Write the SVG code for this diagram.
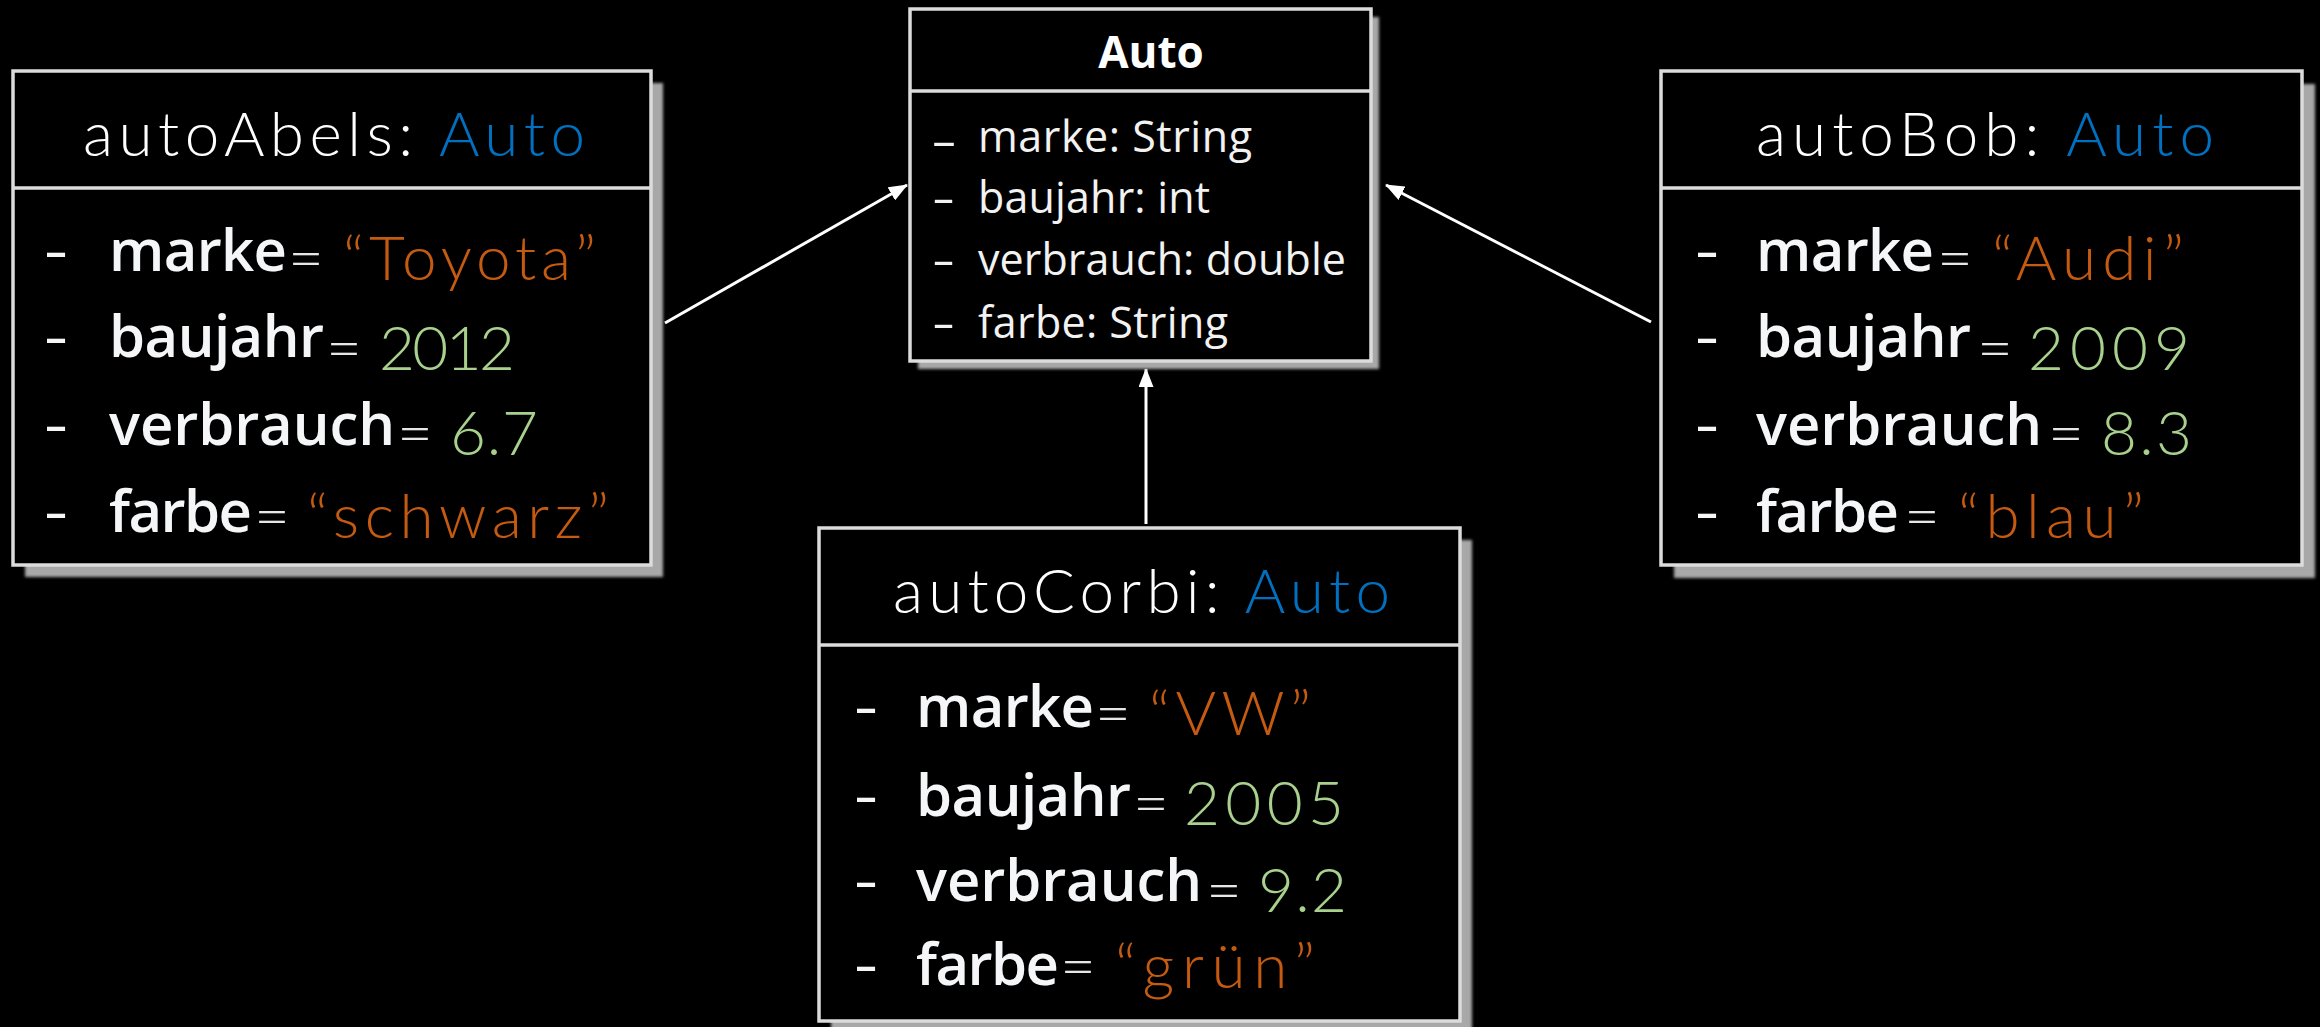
<svg xmlns="http://www.w3.org/2000/svg" width="2320" height="1027" viewBox="0 0 2320 1027">
<defs>
<filter id="soft" x="-5%" y="-5%" width="110%" height="110%"><feGaussianBlur stdDeviation="1.6"/></filter>
<marker id="arr" markerUnits="userSpaceOnUse" markerWidth="19" markerHeight="15" viewBox="0 0 19 15" refX="18" refY="7.5" orient="auto"><path d="M0,0 L19,7.5 L0,15 z" fill="#ffffff"/></marker>
<style>
.bg{fill:#000}
.shadow{fill:#a8a8a8;filter:url(#soft)}
.box{fill:#000;stroke:#dcdcdc;stroke-width:3.5}
.div{stroke:#dcdcdc;stroke-width:3.5}
.title{font-family:Lato,"Open Sans",sans-serif;font-weight:300;font-size:62px;fill:#ffffff}
.blue{fill:#0070c0}
.name{font-family:"Open Sans","Noto Sans",sans-serif;font-weight:600;font-size:58px;fill:#f4f6f8}
.dash{font-family:"Open Sans","Noto Sans",sans-serif;font-weight:400;font-size:58px;fill:#f4f6f8}
.eq{font-family:Lato,"Open Sans",sans-serif;font-weight:300;font-size:62px;fill:#e6e6e6}
.str{font-family:Lato,"Open Sans",sans-serif;font-weight:300;font-size:62px;fill:#c55a11}
.num{font-family:Lato,"Open Sans",sans-serif;font-weight:300;font-size:62px;fill:#a9d18e}
.attr{font-family:"Open Sans","Noto Sans",sans-serif;font-weight:400;font-size:43px;fill:#f2f2f2}
.cls{font-family:"Open Sans","Noto Sans",sans-serif;font-weight:700;font-size:44px;fill:#ffffff}
.conn{stroke:#ffffff;stroke-width:3;fill:none}
</style>
</defs>
<rect class="bg" x="0" y="0" width="2320" height="1027"/>

<g id="connectors">
<line class="conn" x1="665" y1="323" x2="907" y2="185" marker-end="url(#arr)"/>
<line class="conn" x1="1651" y1="322" x2="1386" y2="185" marker-end="url(#arr)"/>
<line class="conn" x1="1146" y1="524" x2="1146" y2="369" marker-end="url(#arr)"/>
</g>

<g id="auto">
<rect class="shadow" x="918" y="17" width="461" height="352"/>
<rect class="box" x="910" y="9" width="461" height="352"/>
<line class="div" x1="910" y1="91" x2="1371" y2="91"/>
<text class="cls" x="1151" y="68" text-anchor="middle">Auto</text>
<text class="attr" x="931" y="156" textLength="26" lengthAdjust="spacingAndGlyphs">-</text>
<text class="attr" x="932" y="213" textLength="23" lengthAdjust="spacingAndGlyphs">-</text>
<text class="attr" x="932" y="275" textLength="23" lengthAdjust="spacingAndGlyphs">-</text>
<text class="attr" x="932" y="338" textLength="23" lengthAdjust="spacingAndGlyphs">-</text>
<text class="attr" x="978" y="152" textLength="274" lengthAdjust="spacing">marke: String</text>
<text class="attr" x="978" y="213" textLength="232" lengthAdjust="spacing">baujahr: int</text>
<text class="attr" x="978" y="275" textLength="368" lengthAdjust="spacing">verbrauch: double</text>
<text class="attr" x="978" y="338" textLength="250" lengthAdjust="spacing">farbe: String</text>
</g>

<g id="autoAbels">
<rect class="shadow" x="25" y="83" width="638" height="494"/>
<rect class="box" x="13" y="71" width="638" height="494"/>
<line class="div" x1="13" y1="188" x2="651" y2="188"/>
<text class="title" x="83" y="156" textLength="502" lengthAdjust="spacing">autoAbels: <tspan class="blue">Auto</tspan></text>
<text class="dash" x="44" y="271" textLength="24" lengthAdjust="spacingAndGlyphs">-</text>
<text class="dash" x="44" y="357" textLength="24" lengthAdjust="spacingAndGlyphs">-</text>
<text class="dash" x="44" y="445" textLength="24" lengthAdjust="spacingAndGlyphs">-</text>
<text class="dash" x="44" y="532" textLength="24" lengthAdjust="spacingAndGlyphs">-</text>
<text class="name" x="109" y="271" textLength="178" lengthAdjust="spacing">marke</text>
<text class="eq" x="288" y="280">=</text>
<text class="str" x="343" y="280" textLength="253" lengthAdjust="spacing">“Toyota”</text>
<text class="name" x="109" y="357" textLength="215" lengthAdjust="spacing">baujahr</text>
<text class="eq" x="326" y="370">=</text>
<text class="num" x="379" y="370" textLength="136" lengthAdjust="spacing">2012</text>
<text class="name" x="109" y="445" textLength="286" lengthAdjust="spacing">verbrauch</text>
<text class="eq" x="397" y="455">=</text>
<text class="num" x="450" y="455" textLength="88" lengthAdjust="spacing">6.7</text>
<text class="name" x="109" y="532" textLength="143" lengthAdjust="spacing">farbe</text>
<text class="eq" x="254" y="538">=</text>
<text class="str" x="307" y="538" textLength="302" lengthAdjust="spacing">“schwarz”</text>
</g>

<g id="autoBob">
<rect class="shadow" x="1674" y="84" width="641" height="494"/>
<rect class="box" x="1661" y="71" width="641" height="494"/>
<line class="div" x1="1661" y1="188" x2="2302" y2="188"/>
<text class="title" x="1756" y="156" textLength="458" lengthAdjust="spacing">autoBob: <tspan class="blue">Auto</tspan></text>
<text class="dash" x="1695" y="271" textLength="24" lengthAdjust="spacingAndGlyphs">-</text>
<text class="dash" x="1695" y="357" textLength="24" lengthAdjust="spacingAndGlyphs">-</text>
<text class="dash" x="1695" y="445" textLength="24" lengthAdjust="spacingAndGlyphs">-</text>
<text class="dash" x="1695" y="532" textLength="24" lengthAdjust="spacingAndGlyphs">-</text>
<text class="name" x="1756" y="271" textLength="178" lengthAdjust="spacing">marke</text>
<text class="eq" x="1937" y="280">=</text>
<text class="str" x="1992" y="280" textLength="192" lengthAdjust="spacing">“Audi”</text>
<text class="name" x="1756" y="357" textLength="215" lengthAdjust="spacing">baujahr</text>
<text class="eq" x="1977" y="370">=</text>
<text class="num" x="2028" y="370" textLength="162" lengthAdjust="spacing">2009</text>
<text class="name" x="1756" y="445" textLength="286" lengthAdjust="spacing">verbrauch</text>
<text class="eq" x="2048" y="455">=</text>
<text class="num" x="2101" y="455" textLength="91" lengthAdjust="spacing">8.3</text>
<text class="name" x="1756" y="532" textLength="143" lengthAdjust="spacing">farbe</text>
<text class="eq" x="1904" y="538">=</text>
<text class="str" x="1958" y="538" textLength="186" lengthAdjust="spacing">“blau”</text>
</g>

<g id="autoCorbi">
<rect class="shadow" x="831" y="540" width="641" height="493"/>
<rect class="box" x="819" y="528" width="641" height="493"/>
<line class="div" x1="819" y1="645" x2="1460" y2="645"/>
<text class="title" x="893" y="613" textLength="497" lengthAdjust="spacing">autoCorbi: <tspan class="blue">Auto</tspan></text>
<text class="dash" x="854" y="727" textLength="24" lengthAdjust="spacingAndGlyphs">-</text>
<text class="dash" x="854" y="816" textLength="24" lengthAdjust="spacingAndGlyphs">-</text>
<text class="dash" x="854" y="901" textLength="24" lengthAdjust="spacingAndGlyphs">-</text>
<text class="dash" x="854" y="985" textLength="24" lengthAdjust="spacingAndGlyphs">-</text>
<text class="name" x="916" y="727" textLength="178" lengthAdjust="spacing">marke</text>
<text class="eq" x="1095" y="735">=</text>
<text class="str" x="1149" y="735" textLength="162" lengthAdjust="spacing">“VW”</text>
<text class="name" x="916" y="816" textLength="215" lengthAdjust="spacing">baujahr</text>
<text class="eq" x="1133" y="825">=</text>
<text class="num" x="1184" y="825" textLength="160" lengthAdjust="spacing">2005</text>
<text class="name" x="916" y="901" textLength="286" lengthAdjust="spacing">verbrauch</text>
<text class="eq" x="1206" y="912">=</text>
<text class="num" x="1258" y="912" textLength="89" lengthAdjust="spacing">9.2</text>
<text class="name" x="916" y="985" textLength="143" lengthAdjust="spacing">farbe</text>
<text class="eq" x="1060" y="988">=</text>
<text class="str" x="1115" y="988" textLength="200" lengthAdjust="spacing">“grün”</text>
</g>
</svg>
